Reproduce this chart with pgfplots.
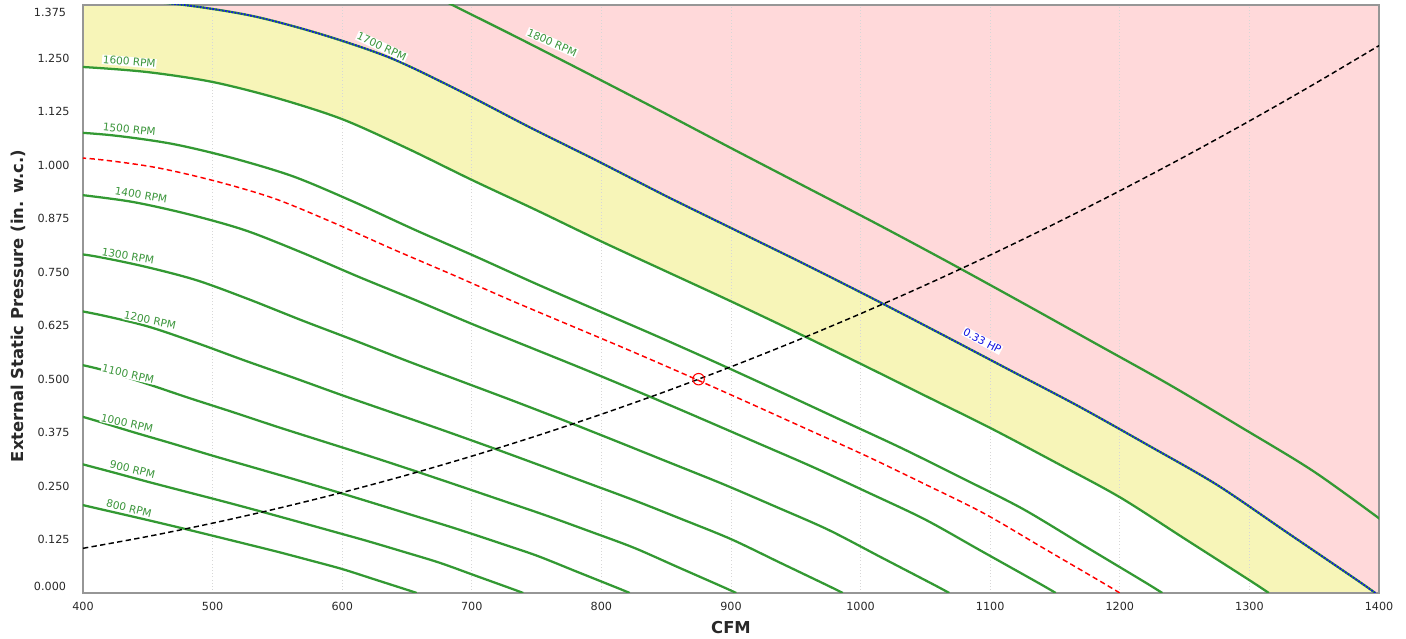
\documentclass[border=0pt]{standalone}
\usepackage{fontspec}
\setmainfont{DejaVu Sans}
\usepackage{pgfplots}
\usepgfplotslibrary{fillbetween}
\pgfplotsset{compat=1.18}

\definecolor{pinkzone}{RGB}{255,217,218}
\definecolor{yellowzone}{RGB}{247,245,184}
\definecolor{rpmgreen}{RGB}{51,153,51}
\definecolor{rpmtext}{RGB}{60,150,60}
\definecolor{hpblue}{RGB}{20,20,225}
\definecolor{axisgray}{RGB}{150,150,150}
\definecolor{gridgray}{RGB}{215,215,215}
\definecolor{labelgray}{RGB}{40,40,40}

\newcommand{\tickfont}{\fontsize{8.4}{10}\selectfont}
\newcommand{\rpmfont}{\fontsize{7.9}{9}\selectfont}

\begin{document}
\begin{tikzpicture}
    \begin{axis}[
            at={(0,0)}, anchor=south west,
            scale only axis,
            width=972pt,
            height=441pt,
            set layers,
            fill between/on layer=axis background,
            clip bounding box=upper bound,
            xmin=400, xmax=1400,
            ymin=0, ymax=1.375,
            xtick={400,500,600,700,800,900,1000,1100,1200,1300,1400},
            xticklabels={400,500,600,700,800,900,1000,1100,1200,1300,1400},
            ytick={0,0.125,0.25,0.375,0.5,0.625,0.75,0.875,1,1.125,1.25,1.375},
            yticklabels={,0.125,0.250,0.375,0.500,0.625,0.750,0.875,1.000,1.125,1.250,},
            major tick length=0pt,
            tick label style={font=\tickfont, text=labelgray},
            xticklabel style={yshift=-3.5pt},
            yticklabel style={xshift=-6.5pt},
            xmajorgrids,
            grid style={draw=gridgray, dotted, line width=0.6pt},
            axis line style={draw=axisgray, line width=1.1pt},
            xlabel={CFM},
            ylabel={External Static Pressure (in. w.c.)},
            label style={font=\fontsize{12.3}{14}\bfseries\selectfont, text=labelgray},
            xlabel style={at={(axis description cs:0.5,-0.0595)}, anchor=center},
            ylabel style={at={(axis description cs:-0.05015,0.488)}, anchor=center},
            every axis plot/.append style={smooth, tension=0.5},
        ]

        % fan curves
        \addplot[rpmgreen, line width=1.7pt] coordinates { % 800 RPM
                (375,0.2238) (400,0.2055) (425,0.1880) (450,0.1705) (475,0.1525)
                (500,0.1340) (525,0.1153) (550,0.0965) (575,0.0765) (600,0.0560)
                (625,0.0318) (650,0.0075) (657.5,0)
            };
        \addplot[rpmgreen, line width=1.7pt] coordinates { % 900 RPM
                (393.75,0.3057) (421.875,0.2832) (450,0.2601) (478.125,0.2379)
                (506.25,0.2158) (534.375,0.1930) (562.5,0.1696) (590.625,0.1459)
                (618.75,0.1221) (646.875,0.0968) (675,0.0709) (703.125,0.0402)
                (731.25,0.0095) (739.69,0)
            };
        \addplot[rpmgreen, line width=1.7pt] coordinates { % 1000 RPM
                (375,0.4328) (406.25,0.4063) (437.5,0.3773) (468.75,0.3496)
                (500,0.3211) (531.25,0.2938) (562.5,0.2664) (593.75,0.2383)
                (625,0.2094) (656.25,0.1801) (687.5,0.1508) (718.75,0.1195)
                (750,0.0875) (781.25,0.0496) (812.5,0.0117) (821.875,0)
            };
        \addplot[rpmgreen, line width=1.7pt] coordinates { % 1100 RPM
                (378.125,0.5469) (412.5,0.5237) (446.875,0.4916) (481.25,0.4566)
                (515.625,0.4230) (550,0.3885) (584.375,0.3554) (618.75,0.3224)
                (653.125,0.2883) (687.5,0.2533) (721.875,0.2179) (756.25,0.1824)
                (790.625,0.1446) (825,0.1059) (859.375,0.0600) (893.75,0.0142)
                (904.06,0)
            };
        \addplot[rpmgreen, line width=1.7pt] coordinates { % 1200 RPM
                (375,0.6722) (412.5,0.6508) (450,0.6233) (487.5,0.5850)
                (525,0.5434) (562.5,0.5034) (600,0.4624) (637.5,0.4230)
                (675,0.3836) (712.5,0.3431) (750,0.3015) (787.5,0.2593)
                (825,0.2171) (862.5,0.1721) (900,0.1260) (937.5,0.0714)
                (975,0.0169) (986.25,0)
            };
        \addplot[rpmgreen, line width=1.7pt] coordinates { % 1300 RPM
                (365.625,0.8041) (406.25,0.7889) (446.875,0.7638) (487.5,0.7315)
                (528.125,0.6866) (568.75,0.6377) (609.375,0.5908) (650,0.5427)
                (690.625,0.4964) (731.25,0.4502) (771.875,0.4027) (812.5,0.3538)
                (853.125,0.3043) (893.75,0.2548) (934.375,0.2020) (975,0.1479)
                (1015.625,0.0838) (1056.25,0.0198) (1068.44,0)
            };
        \addplot[rpmgreen, line width=1.7pt] coordinates { % 1400 RPM
                (393.75,0.9325) (437.5,0.9149) (481.25,0.8858) (525,0.8483)
                (568.75,0.7963) (612.5,0.7396) (656.25,0.6852) (700,0.6293)
                (743.75,0.5758) (787.5,0.5222) (831.25,0.4670) (875,0.4104)
                (918.75,0.3530) (962.5,0.2955) (1006.25,0.2343) (1050,0.1715)
                (1093.75,0.0972) (1137.5,0.0230) (1150.6,0)
            };
        \addplot[rpmgreen, line width=1.7pt] coordinates { % 1500 RPM
                (375,1.0811) (421.875,1.0705) (468.75,1.0503) (515.625,1.0169)
                (562.5,0.9738) (609.375,0.9141) (656.25,0.8490) (703.125,0.7866)
                (750,0.7225) (796.875,0.6609) (843.75,0.5994) (890.625,0.5361)
                (937.5,0.4711) (984.375,0.4052) (1031.25,0.3393) (1078.125,0.2689)
                (1125,0.1969) (1171.875,0.1116) (1218.75,0.0264) (1232.8,0)
            };
        \addplot[rpmgreen, line width=1.7pt, name path=p16] coordinates { % 1600 RPM
                (350,1.236) (400,1.230) (450,1.218) (500,1.195) (550,1.157) (600,1.108)
                (650,1.040) (700,0.966) (750,0.895) (800,0.822) (850,0.752)
                (900,0.682) (950,0.610) (1000,0.536) (1050,0.461) (1100,0.386)
                (1150,0.306) (1200,0.224) (1250,0.127) (1300,0.030) (1315,0)
            };
        \addplot[rpmgreen, line width=1.7pt] coordinates { % 1700 RPM
                (371.875,1.3953) (425,1.3886) (478.125,1.3750) (531.25,1.3490)
                (584.375,1.3061) (637.5,1.2508) (690.625,1.1741) (743.75,1.0905)
                (796.875,1.0104) (850,0.9280) (903.125,0.8489) (956.25,0.7699)
                (1009.375,0.6886) (1062.5,0.6051) (1115.625,0.5204) (1168.75,0.4358)
                (1221.875,0.3455) (1275,0.2529) (1328.125,0.1434) (1381.25,0.0339)
                (1397.19,0)
            };
        \addplot[rpmgreen, line width=1.7pt] coordinates { % 1800 RPM
                (675,1.3900) (731.25,1.3050) (787.5,1.2180) (843.75,1.1300)
                (900,1.0404) (956.25,0.9518) (1012.5,0.8632) (1068.75,0.7720)
                (1125,0.6784) (1181.25,0.5835) (1237.5,0.4885) (1293.75,0.3873)
                (1350,0.2835) (1406.25,0.1607)
            };

        % 0.33 HP limit
        \addplot[hpblue, line width=1.3pt, dash pattern=on 1.3pt off 1.1pt, name path=hp] coordinates {
                (371.875,1.3953) (425,1.3886) (478.125,1.3750) (531.25,1.3490)
                (584.375,1.3061) (637.5,1.2508) (690.625,1.1741) (743.75,1.0905)
                (796.875,1.0104) (850,0.9280) (903.125,0.8489) (956.25,0.7699)
                (1009.375,0.6886) (1062.5,0.6051) (1115.625,0.5204) (1168.75,0.4358)
                (1221.875,0.3455) (1275,0.2529) (1328.125,0.1434) (1381.25,0.0339)
                (1397.19,0)
            };
        \addplot[draw=none, sharp plot, name path=tr] coordinates {
                (371.875,1.45) (1410,1.45) (1410,0)
            };

        % shaded zones
        \addplot[fill=pinkzone, draw=none] fill between[of=hp and tr];
        \addplot[fill=yellowzone, draw=none] fill between[of=p16 and hp];

        % operating fan curve
        \addplot[red, line width=1.1pt, dash pattern=on 4pt off 2.5pt] coordinates {
                (365,1.0242) (410.625,1.0142) (456.25,0.9950) (501.875,0.9634)
                (547.5,0.9226) (593.125,0.8660) (638.75,0.8044) (684.375,0.7452)
                (730,0.6845) (775.625,0.6262) (821.25,0.5679) (866.875,0.5079)
                (912.5,0.4463) (958.125,0.3839) (1003.75,0.3214) (1049.375,0.2548)
                (1095,0.1865) (1140.625,0.1057) (1186.25,0.0250) (1200,0)
            };

        % system curve
        \addplot[black, line width=1.1pt, dash pattern=on 4pt off 2.5pt] coordinates {
                (400,0.1045) (450,0.1322) (500,0.1633) (550,0.1976) (600,0.2351)
                (650,0.2759) (700,0.3200) (750,0.3674) (800,0.4180) (850,0.4718)
                (900,0.5290) (950,0.5894) (1000,0.6531) (1050,0.7200) (1100,0.7902)
                (1150,0.8637) (1200,0.9404) (1250,1.0204) (1300,1.1037) (1350,1.1902)
                (1400,1.2800)
            };

        % operating point
        \addplot[red, only marks, mark=o, mark size=4.3pt, line width=0.8pt] coordinates {(875,0.5)};

        % curve labels
        \tikzset{rpmlbl/.style={font=\rpmfont, text=rpmtext, fill=white, inner sep=0.6pt}}
        \node[rpmlbl, rotate=-5] at (axis cs:435.7,1.2425) {1600 RPM};
        \node[rpmlbl, rotate=-6] at (axis cs:435.7,1.0844) {1500 RPM};
        \node[rpmlbl, rotate=-10] at (axis cs:444.8,0.931) {1400 RPM};
        \node[rpmlbl, rotate=-10] at (axis cs:434.7,0.788) {1300 RPM};
        \node[rpmlbl, rotate=-12] at (axis cs:451.7,0.638) {1200 RPM};
        \node[rpmlbl, rotate=-13] at (axis cs:434.7,0.512) {1100 RPM};
        \node[rpmlbl, rotate=-13] at (axis cs:434,0.3968) {1000 RPM};
        \node[rpmlbl, rotate=-14] at (axis cs:438.1,0.2893) {900 RPM};
        \node[rpmlbl, rotate=-14] at (axis cs:435.5,0.198) {800 RPM};
        \node[rpmlbl, rotate=-25] at (axis cs:630.5,1.2776) {1700 RPM};
        \node[rpmlbl, rotate=-24] at (axis cs:761.9,1.287) {1800 RPM};
        \node[font=\rpmfont, text=hpblue, fill=white, inner sep=0.6pt, rotate=-28] at (axis cs:1093.9,0.590) {0.33 HP};
    \end{axis}
    % end tick labels sit inside the axis range
    \node[font=\tickfont, text=labelgray, anchor=east] at (-9.2pt,5.25pt) {0.000};
    \node[font=\tickfont, text=labelgray, anchor=east] at (-9.2pt,435.75pt) {1.375};
    \path (-62.25pt,-33.75pt) rectangle (992.25pt,444.75pt);
\end{tikzpicture}
\end{document}
